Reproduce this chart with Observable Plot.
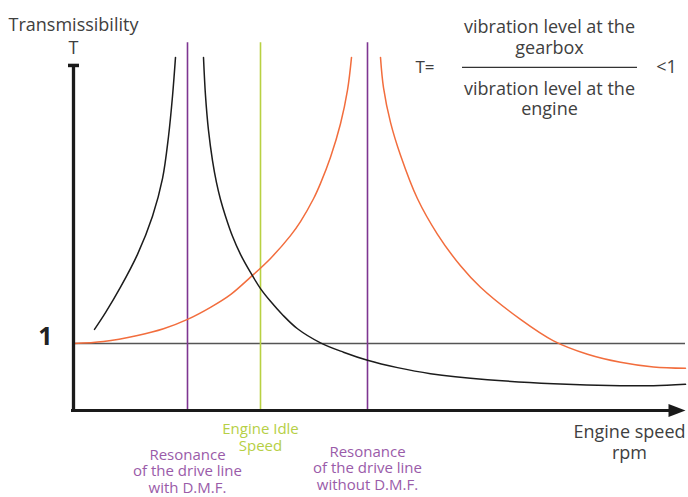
<!DOCTYPE html>
<html>
<head>
<meta charset="utf-8">
<script src="https://cdn.jsdelivr.net/npm/d3@7"></script>
<script src="https://cdn.jsdelivr.net/npm/@observablehq/plot@0.6"></script>
<style>
  html, body { margin: 0; padding: 0; background: #fff; }
  #chart svg { display: block; }
</style>
</head>
<body>
<div id="chart"></div>
<script>
// ---- data ----
// Curve with D.M.F. (black): below and above its resonance
const rpmDmfLow  = [210, 320, 470, 640, 790, 890, 950, 990, 1020];
const tDmfLow    = [1.21, 1.46, 1.84, 2.33, 2.90, 3.46, 4.09, 4.69, 5.27];
const rpmDmfHigh = [1300, 1320, 1350, 1390, 1430, 1470, 1520, 1590, 1670, 1770, 1870, 1970, 2090, 2240, 2470, 2700, 2940, 3240, 3570, 4140, 4800, 5470, 5800, 6120];
const tDmfHigh   = [5.27, 4.70, 4.18, 3.73, 3.40, 3.15, 2.90, 2.60, 2.33, 2.06, 1.82, 1.63, 1.43, 1.22, 1.01, 0.87, 0.75, 0.64, 0.55, 0.46, 0.40, 0.37, 0.37, 0.39];
// Curve without D.M.F. (orange)
const rpmNoDmfLow  = [0, 300, 640, 900, 1140, 1370, 1570, 1770, 1970, 2170, 2270, 2400, 2470, 2570, 2670, 2740, 2780];
const tNoDmfLow    = [1.00, 1.03, 1.12, 1.22, 1.36, 1.54, 1.73, 1.99, 2.27, 2.61, 2.82, 3.16, 3.39, 3.78, 4.28, 4.78, 5.27];
const rpmNoDmfHigh = [3070, 3100, 3170, 3270, 3440, 3640, 3870, 4070, 4470, 4800, 5140, 5470, 5800, 6120];
const tNoDmfHigh   = [5.27, 4.82, 4.30, 3.81, 3.16, 2.63, 2.16, 1.84, 1.36, 1.04, 0.84, 0.72, 0.65, 0.63];
// Reference speeds (vertical lines)
const markerRpm    = [1140, 1870, 2940];
const markerLabels = ["Resonance\nof the drive line\nwith D.M.F.", "Engine Idle\nSpeed", "Resonance\nof the drive line\nwithout D.M.F."];
const markerKind   = ["resonance", "idle", "resonance"];
// Axis texts
const yLabel = "Transmissibility\nT";
const xLabel = "Engine speed\nrpm";
const unityLabel = "1";
const formulaLhs = "T=";
const formulaNum = "vibration level at the\ngearbox";
const formulaDen = "vibration level at the\nengine";
const formulaRhs = "<1";
const speedMax = 6120;
const tAxisTop = 5.15;

// ---- tables ----
const toRows = (xs, ys, series) => xs.map((x, i) => ({rpm: x, T: ys[i], series}));
const blackLow   = toRows(rpmDmfLow, tDmfLow, "dmf");
const blackHigh  = toRows(rpmDmfHigh, tDmfHigh, "dmf");
const orangeLow  = toRows(rpmNoDmfLow, tNoDmfLow, "nodmf");
const orangeHigh = toRows(rpmNoDmfHigh, tNoDmfHigh, "nodmf");
const markers = markerRpm.map((rpm, i) => ({rpm, label: markerLabels[i], kind: markerKind[i]}));

const lineColor = {resonance: "#7e3591", idle: "#b8d142"};
const textColor = {resonance: "#9a5ba9", idle: "#b6cf45"};
const labelT    = [-0.90, -0.40, -0.86];

const arrowHead = {
  draw(ctx) {
    ctx.moveTo(0, 0);
    ctx.lineTo(-17, -6.5);
    ctx.lineTo(-17, 6.5);
    ctx.closePath();
  }
};

const font = "Open Sans, Lato, sans-serif";
const ink = "#404040";
const curve = "catmull-rom";

const chart = Plot.plot({
  width: 688,
  height: 497,
  marginLeft: 73,
  marginRight: 3,
  marginTop: 8,
  marginBottom: 87,
  x: {domain: [0, speedMax], axis: null},
  y: {domain: [0, 6], axis: null},
  style: {fontFamily: font, background: "#fff"},
  marks: [
    Plot.ruleY([1], {stroke: "#555", strokeWidth: 1.6}),
    Plot.ruleX(markers, {x: "rpm", y1: 0, y2: 5.49, stroke: d => lineColor[d.kind], strokeWidth: 1.6}),
    Plot.line(orangeLow,  {x: "rpm", y: "T", stroke: "#f26d3d", strokeWidth: 1.5, curve}),
    Plot.line(orangeHigh, {x: "rpm", y: "T", stroke: "#f26d3d", strokeWidth: 1.5, curve}),
    Plot.line(blackLow,   {x: "rpm", y: "T", stroke: "#1c1c1c", strokeWidth: 1.5, curve}),
    Plot.line(blackHigh,  {x: "rpm", y: "T", stroke: "#1c1c1c", strokeWidth: 1.5, curve}),
    // axes
    Plot.ruleX([0], {y1: -0.02, y2: tAxisTop, stroke: "#1a1a1a", strokeWidth: 3.3}),
    Plot.ruleY([tAxisTop], {x1: -50, x2: 60, stroke: "#1a1a1a", strokeWidth: 3.5}),
    Plot.ruleY([0], {x1: -20, x2: speedMax - 150, stroke: "#1a1a1a", strokeWidth: 3}),
    Plot.dot([speedMax], {x: d => d, y: 0, symbol: arrowHead, fill: "#1a1a1a", stroke: "none"}),
    // axis texts
    Plot.text([yLabel], {x: 0, y: 5.60, text: d => d, fontSize: 18, lineHeight: 1.3, fill: ink, textAnchor: "middle"}),
    Plot.text([unityLabel], {x: -280, y: 1.09, text: d => d, fontSize: 25, fontWeight: "bold", fill: "#222"}),
    Plot.text([xLabel], {x: 5560, y: -0.47, text: d => d, fontSize: 18, lineHeight: 1.15, fill: ink}),
    // marker labels
    Plot.text(markers, {x: "rpm", y: (d, i) => labelT[i], text: "label", fontSize: 15, lineHeight: 1.1, fill: d => textColor[d.kind]}),
    // formula
    Plot.text([formulaLhs], {x: 3420, y: 5.12, text: d => d, fontSize: 17, textAnchor: "start", fill: ink}),
    Plot.text([formulaNum], {x: 4760, y: 5.58, text: d => d, fontSize: 18, lineHeight: 1.17, fill: ink}),
    Plot.ruleY([5.12], {x1: 3890, x2: 5640, stroke: "#333", strokeWidth: 1.3}),
    Plot.text([formulaDen], {x: 4760, y: 4.66, text: d => d, fontSize: 18, lineHeight: 1.12, fill: ink}),
    Plot.text([formulaRhs], {x: 5930, y: 5.12, text: d => d, fontSize: 18, fill: ink})
  ]
});
document.getElementById("chart").append(chart);
</script>
</body>
</html>
